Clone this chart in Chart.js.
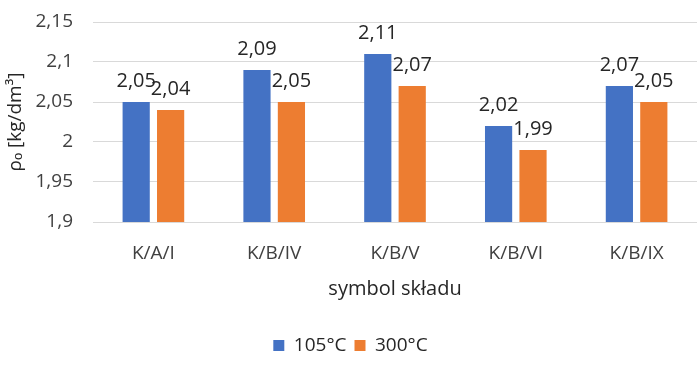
<!DOCTYPE html>
<html><head><meta charset="utf-8">
<script src="https://cdn.jsdelivr.net/npm/chart.js@4"></script>
<style>html,body{margin:0;padding:0;background:#fff}#wrap{width:697px;height:365px}</style>
</head><body><div id="wrap"><canvas id="c" width="697" height="365"></canvas></div>
<script>
const categories = ["K/A/I","K/B/IV","K/B/V","K/B/VI","K/B/IX"];
const series105 = [2.05,2.09,2.11,2.02,2.07];
const series300 = [2.04,2.05,2.07,1.99,2.05];
const seriesNames = ["105°C","300°C"];
const yTicks = [1.9,1.95,2,2.05,2.1,2.15];
const FONT = "'Open Sans', 'Liberation Sans', sans-serif";
const fmt = v => String(Math.round(v*100)/100).replace('.', ',');

const labelPlugin = {
  id: 'vals',
  afterDatasetsDraw(chart) {
    const ctx = chart.ctx;
    ctx.save();
    ctx.font = "20px " + FONT;
    ctx.fillStyle = "#262626";
    ctx.textAlign = "center";
    ctx.textBaseline = "alphabetic";
    chart.data.datasets.forEach((ds, di) => {
      const meta = chart.getDatasetMeta(di);
      meta.data.forEach((el, i) => {
        ctx.fillText(fmt(ds.data[i]), el.x, el.y - 15);
      });
    });
    ctx.restore();
  }
};

new Chart(document.getElementById('c'), {
  type: 'bar',
  data: {
    labels: categories,
    datasets: [
      {label: seriesNames[0], data: series105, backgroundColor: '#4472c4', categoryPercentage: 0.57, barPercentage: 0.79},
      {label: seriesNames[1], data: series300, backgroundColor: '#ed7d31', categoryPercentage: 0.57, barPercentage: 0.79}
    ]
  },
  options: {
    responsive: false,
    animation: false,
    layout: {padding: {left: 4, right: 0, top: 22, bottom: 0}},
    plugins: {
      legend: {
        position: 'bottom',
        labels: {font: {size: 19, family: FONT}, color: '#262626', boxWidth: 11, boxHeight: 11, padding: 8},
        padding: 0
      },
      tooltip: {enabled: false}
    },
    scales: {
      x: {
        grid: {display: false},
        border: {color: '#d9d9d9'},
        afterFit: s => { s.height = 106; s.paddingLeft = 0; s.paddingRight = 0; },
        ticks: {font: {size: 19, family: FONT}, color: '#404040', padding: 12, maxRotation: 0},
        title: {display: true, text: 'symbol składu', font: {size: 20, family: FONT}, color: '#262626', padding: {top: 15, bottom: 27}}
      },
      y: {
        min: 1.9, max: 2.15,
        afterFit: s => { s.width = 89; s.paddingTop = 0; s.paddingBottom = 0; },
        afterBuildTicks: a => { a.ticks = yTicks.map(v => ({value: v})); },
        grid: {color: '#d9d9d9', drawTicks: false},
        border: {display: false},
        ticks: {font: {size: 19, family: FONT}, color: '#404040', padding: 20, callback: v => fmt(v)},
        title: {display: true, text: 'ρₒ [kg/dm³]', font: {size: 19, family: FONT}, color: '#262626', padding: {top: 0, bottom: 9}}
      }
    }
  },
  plugins: [labelPlugin]
});
</script></body></html>
